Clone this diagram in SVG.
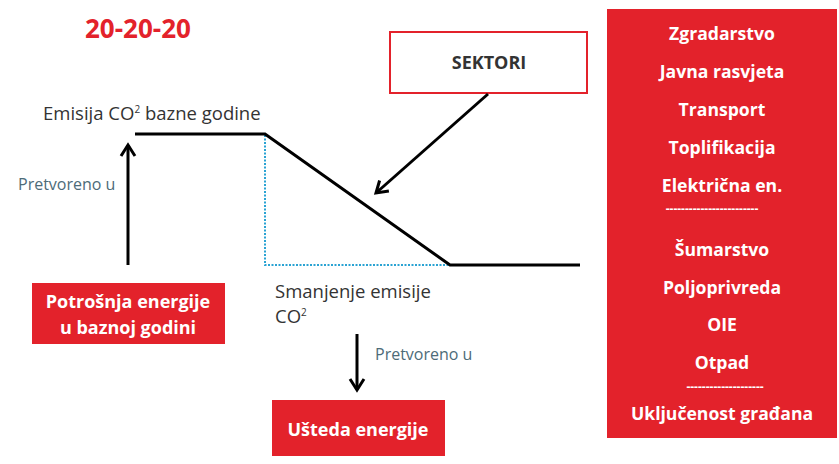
<svg xmlns="http://www.w3.org/2000/svg" width="839" height="464" viewBox="0 0 839 464">
<defs>
<style>
text{font-family:"Open Sans","Liberation Sans",sans-serif}
.w{fill:#ffffff;font-weight:bold;font-size:17.6px;text-anchor:middle}
.d{fill:#333333;font-size:18.5px}
.g{fill:#4d6b78;font-size:16px}
.red{fill:#e3222b}
.ln{stroke:#000;stroke-width:3;fill:none}
.dot{stroke:#2aa3d3;stroke-width:2;stroke-dasharray:2 1.5;fill:none}
</style>
<marker id="ah" markerUnits="userSpaceOnUse" markerWidth="18" markerHeight="18" viewBox="0 0 18 18" refX="14" refY="9" orient="auto">
<path d="M3,2 L14,9 L3,16" fill="none" stroke="#000" stroke-width="3"/>
</marker>
</defs>
<rect width="839" height="464" fill="#ffffff"/>

<g id="title">
<text x="85" y="38" font-size="26" font-weight="bold" fill="#e3222b">20-20-20</text>
</g>

<g id="emisija">
<text x="43" y="120" class="d">Emisija CO<tspan font-size="10" dy="-7">2</tspan><tspan dy="7"> bazne godine</tspan></text>
</g>

<g id="potrosnja">
<rect x="32" y="283" width="193" height="61" class="red"/>
<text x="128" y="308" class="w" style="font-size:18px">Potrošnja energije</text>
<text x="128" y="334" class="w" style="font-size:18px">u baznoj godini</text>
</g>

<g id="sektori">
<rect x="390" y="32" width="197" height="61" fill="#ffffff" stroke="#e3222b" stroke-width="2"/>
<text x="489" y="69" text-anchor="middle" font-weight="bold" font-size="18" fill="#333333">SEKTORI</text>
</g>

<g id="smanjenje">
<text x="275" y="298" class="d">Smanjenje emisije</text>
<text x="275" y="323" class="d">CO<tspan font-size="10" dy="-7">2</tspan></text>
</g>

<g id="usteda">
<rect x="272" y="400" width="173" height="56" class="red"/>
<text x="358" y="436" class="w" style="font-size:18px">Ušteda energije</text>
</g>

<g id="sektori-lista">
<rect x="607" y="9" width="230" height="429" class="red"/>
<text x="722" y="40" class="w">Zgradarstvo</text>
<text x="722" y="78" class="w">Javna rasvjeta</text>
<text x="722" y="116" class="w">Transport</text>
<text x="722" y="154" class="w">Toplifikacija</text>
<text x="722" y="192" class="w">Električna en.</text>
<text x="712" y="213" class="w" style="font-size:12px">------------------------</text>
<text x="722" y="256" class="w">Šumarstvo</text>
<text x="722" y="294" class="w">Poljoprivreda</text>
<text x="722" y="331" class="w">OIE</text>
<text x="722" y="369" class="w">Otpad</text>
<text x="725" y="391" class="w" style="font-size:12px">--------------------</text>
<text x="722" y="420" class="w">Uključenost građana</text>
</g>

<g id="connectors">
<polyline class="dot" points="265,135 265,265 450,265"/>
<polyline class="ln" points="135,134 265,134 450,265 580,265"/>
<line class="ln" x1="128" y1="265" x2="128" y2="145" marker-end="url(#ah)"/>
<line class="ln" x1="488" y1="94" x2="376" y2="193" marker-end="url(#ah)"/>
<line class="ln" x1="357" y1="334" x2="357" y2="390" marker-end="url(#ah)"/>
<text x="18" y="190" class="g">Pretvoreno u</text>
<text x="375" y="360" class="g">Pretvoreno u</text>
</g>
</svg>
